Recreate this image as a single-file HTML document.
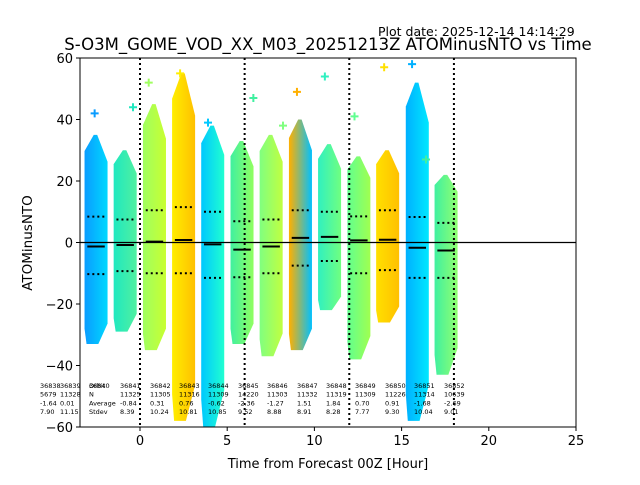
<!DOCTYPE html>
<html><head><meta charset="utf-8"><style>
body{margin:0;background:#fff}
svg text{font-family:"DejaVu Sans","Liberation Sans",sans-serif}
</style></head><body>
<svg id="c" width="640" height="480" xmlns="http://www.w3.org/2000/svg">
<defs id="defs"></defs>
<text x="378" y="36" font-size="12.5">Plot date: 2025-12-14 14:14:29</text>
<text x="328" y="50" font-size="16.5" text-anchor="middle">S-O3M_GOME_VOD_XX_M03_20251213Z ATOMinusNTO vs Time</text>
<text x="328" y="468" font-size="13" text-anchor="middle">Time from Forecast 00Z [Hour]</text>
<text transform="translate(32,243) rotate(-90)" font-size="13.5" text-anchor="middle">ATOMinusNTO</text>
<g id="marks"></g>
<g id="axes"></g>
</svg>
<script>
const centers=[-2.52,-0.85,0.83,2.5,4.17,5.85,7.52,9.2,10.87,12.55,14.2,15.9,17.55];
const tops=[35,30,45,55,38,33,35,40,32,28,30,52,22];
const bottoms=[-33,-29,-35,-58,-60,-33,-37,-35,-22,-38,-26,-58,-43];
const means=[-1.3,-0.8,0.3,0.8,-0.6,-2.3,-1.3,1.5,1.84,0.7,0.9,-1.7,-2.6];
const dotHi=[8.4,7.5,10.5,11.5,10,6.9,7.5,10.5,10,8.5,10.5,8.3,6.4];
const dotLo=[-10.3,-9.3,-10,-10,-11.5,-11.3,-10,-7.5,-6,-10,-9,-11.5,-11.5];
const colL=['#0a9cff','#20e8c0','#a0ff60','#ffee00','#00c8ff','#40f0a0','#80ff80','#ffb000','#30f0c0','#60ff90','#ffe000','#00b0ff','#40f0a0'];
const colR=['#00d8ff','#50f0a0','#c8ff30','#ffc000','#20ffd0','#90ff60','#c0ff40','#00c0ff','#70ff80','#a0ff50','#ffc000','#00e8ff','#90ff70'];
const outH=[-2.6,-0.4,0.5,2.3,3.9,6.5,8.2,9.0,10.6,12.3,14.0,15.6,16.4];
const outV=[42,44,52,55,39,47,38,49,54,41,57,58,27];
const orbits=['36838','36839','36840','36841','36842','36843','36844','36845','36846','36847','36848','36849','36850','36851','36852'];
const counts=['5679','11328','','11325','11305','11316','11309','14220','11303','11332','11319','11309','11226','11314','10639'];
const avgs=['-1.64','0.01','','-0.84','0.31','0.76','-0.62','-2.36','-1.27','1.51','1.84','0.70','0.91','-1.68','-2.69'];
const stds=['7.90','11.15','','8.39','10.24','10.81','10.85','9.52','8.88','8.91','8.28','7.77','9.30','10.04','9.01'];
const statX=[40,60,89,120,150,179,208,238,267,297,326,355,385,414,444];
const xTicks=[0,5,10,15,20,25];
const yTicks=[-60,-40,-20,0,20,40,60];
const vLines=[0,6,12,18];
const X0=80,X1=576,Y0=58,Y1=427;
const xmin=-3.44,xmax=25,ymin=-60,ymax=60;
const xs=h=>X0+(h-xmin)/(xmax-xmin)*(X1-X0);
const ys=v=>Y1-(v-ymin)/(ymax-ymin)*(Y1-Y0);
const NS='http://www.w3.org/2000/svg';
function mk(t,a,p){const e=document.createElementNS(NS,t);for(const k in a)e.setAttribute(k,a[k]);p.appendChild(e);return e;}
const defs=document.getElementById('defs'),marks=document.getElementById('marks'),axes=document.getElementById('axes');
const W=1.32;
centers.forEach((c,i)=>{
  const g=mk('linearGradient',{id:'g'+i,x1:0,x2:1,y1:0,y2:0},defs);
  mk('stop',{offset:0,'stop-color':colL[i]},g);mk('stop',{offset:1,'stop-color':colR[i]},g);
  const xl=xs(c-W/2),xr=xs(c+W/2),xm=xs(c-W*0.1),xn=xs(c+W*0.1);
  const t=tops[i],b=bottoms[i];
  const pts=[[xm,ys(t)],[xs(c+W*0.05),ys(t)],[xr,ys(t*0.75)],[xr,ys(b*0.8)],[xn,ys(b)],[xl+2,ys(b)],[xl,ys(b*0.85)],[xl,ys(t*0.85)]];
  const r=mk('polygon',{points:pts.map(p=>p.join(',')).join(' '),fill:'url(#g'+i+')'},marks);
  
  
  const ox=xs(outH[i]),oy=ys(outV[i]);
  const o=mk('path',{d:`M${ox-4},${oy}h8M${ox},${oy-4}v8`,stroke:colL[i],'stroke-width':2},marks);
  
  
  const m=mk('line',{x1:xs(c-0.5),x2:xs(c+0.5),y1:ys(means[i]),y2:ys(means[i]),stroke:'#000','stroke-width':2},marks);
  
  
  [dotHi[i],dotLo[i]].forEach(v=>{
    const d=mk('line',{x1:xs(c-0.5),x2:xs(c+0.5),y1:ys(v),y2:ys(v),stroke:'#000','stroke-width':2,'stroke-dasharray':'2,3'},marks);
    
    
  });
});
vLines.forEach(h=>{
  const l=mk('line',{x1:xs(h),x2:xs(h),y1:Y0,y2:Y1,stroke:'#000','stroke-width':2,'stroke-dasharray':'2,3'},axes);
  
  
});
const z=mk('line',{x1:X0,x2:X1,y1:ys(0),y2:ys(0),stroke:'#000','stroke-width':1.2},axes);


const fr=mk('rect',{x:X0,y:Y0,width:X1-X0,height:Y1-Y0,fill:'none',stroke:'#000','stroke-width':1},axes);


xTicks.forEach(t=>{
  const x=xs(t);
  mk('line',{x1:x,x2:x,y1:Y1,y2:Y1+4,stroke:'#000'},axes);
  const tx=mk('text',{x:x,y:Y1+18,'font-size':13,'text-anchor':'middle'},axes);tx.textContent=t;
  
  
});
yTicks.forEach(t=>{
  const y=ys(t);
  mk('line',{x1:X0-4,x2:X0,y1:y,y2:y,stroke:'#000'},axes);
  const tx=mk('text',{x:X0-7,y:y+5,'font-size':13,'text-anchor':'end'},axes);tx.textContent=t<0?'\u2212'+(-t):t;
  
  
});
const rows=[orbits,counts,avgs,stds];
rows.forEach((arr,r)=>arr.forEach((s,i)=>{
  if(!s)return;
  const tx=mk('text',{x:statX[i],y:388+r*8.7,'font-size':6.5},axes);tx.textContent=s;
  
  
}));
['Orbit','N','Average','Stdev'].forEach((s,r)=>{
  const tx=mk('text',{x:89,y:388+r*8.7,'font-size':6.5},axes);tx.textContent=s;
  
  
});
</script>
</body></html>
